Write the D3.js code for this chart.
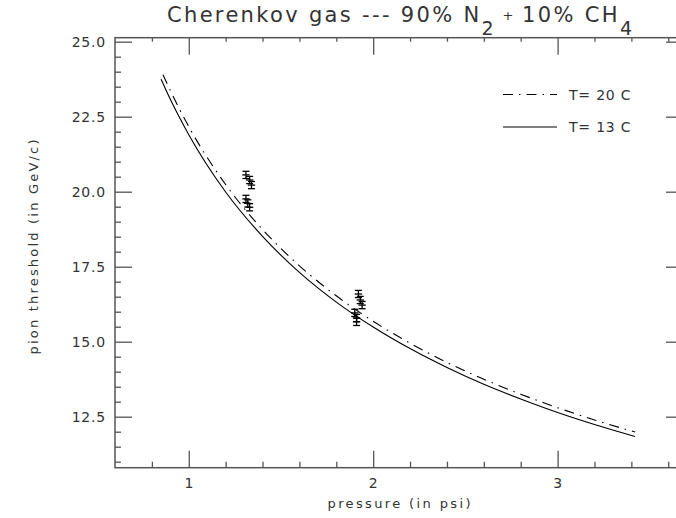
<!DOCTYPE html>
<html>
<head>
<meta charset="utf-8">
<script src="https://cdn.jsdelivr.net/npm/d3@7"></script>
<style>
  html, body { margin: 0; padding: 0; background: #fff; }
  svg { display: block; }
  text { font-family: "DejaVu Sans", "Liberation Sans", sans-serif; fill: #333; }
</style>
</head>
<body>
<svg id="chart" width="676" height="518"></svg>
<script>
// Threshold curves: pion Cherenkov threshold vs gas pressure
const pressure20C = [0.86, 0.9, 1.0, 1.2, 1.4, 1.6, 1.8, 2.0, 2.2, 2.4, 2.6, 2.8, 3.0, 3.2, 3.42];
const threshold20C = [23.90, 23.37, 22.17, 20.24, 18.74, 17.53, 16.53, 15.68, 14.95, 14.31, 13.75, 13.25, 12.80, 12.39, 11.99];

const pressure13C = [0.85, 0.9, 1.0, 1.2, 1.4, 1.6, 1.8, 2.0, 2.2, 2.4, 2.6, 2.8, 3.0, 3.2, 3.42];
const threshold13C = [23.75, 23.08, 21.90, 19.99, 18.51, 17.31, 16.32, 15.49, 14.77, 14.14, 13.58, 13.09, 12.64, 12.24, 11.84];

// Measured thresholds with errors
const measPressure = [1.31, 1.33, 1.34, 1.31, 1.32, 1.33, 1.92, 1.93, 1.94, 1.90, 1.91, 1.91];
const measThreshold = [20.56, 20.39, 20.22, 19.76, 19.61, 19.48, 16.59, 16.39, 16.22, 15.96, 15.79, 15.66];
const measPressureErr = 0.02;
const measThresholdErr = 0.12;

// Axis ticks
const xMajorTicks = [1, 2, 3];
const xMinorTicks = [0.8, 1.2, 1.4, 1.6, 1.8, 2.2, 2.4, 2.6, 2.8, 3.2, 3.4, 3.6];
const yMajorTicks = [12.5, 15.0, 17.5, 20.0, 22.5, 25.0];
const yMinorTicks = [11, 11.5, 12, 13, 13.5, 14, 14.5, 15.5, 16, 16.5, 17, 18, 18.5, 19, 19.5,
                     20.5, 21, 21.5, 22, 23, 23.5, 24, 24.5];

const legendLabels = ["T= 20 C", "T= 13 C"];

const svg = d3.select("#chart");
const plotLeft = 115, plotRight = 683, plotTop = 37.7, plotBottom = 467.7;

const x = d3.scaleLinear().domain([0.6, 3.68]).range([plotLeft, plotRight]);
const y = d3.scaleLinear().domain([10.8, 25.133]).range([plotBottom, plotTop]);

const axisColor = "#555";

// Frame
svg.append("rect")
  .attr("x", plotLeft).attr("y", plotTop)
  .attr("width", plotRight - plotLeft).attr("height", plotBottom - plotTop)
  .attr("fill", "none").attr("stroke", axisColor).attr("stroke-width", 1.5);

function styleAxis(g) {
  g.select(".domain").remove();
  g.selectAll(".tick line").attr("stroke", axisColor).attr("stroke-width", 1.3);
  g.selectAll(".tick text").attr("fill", "#333").attr("font-size", 14)
    .attr("font-family", "DejaVu Sans, sans-serif").attr("letter-spacing", "0.8px");
}

// Bottom axis (inward ticks)
svg.append("g").attr("transform", `translate(0,${plotBottom})`)
  .call(d3.axisBottom(x).tickValues(xMajorTicks).tickSizeInner(-17).tickSizeOuter(0)
        .tickPadding(10).tickFormat(d3.format("d")))
  .call(styleAxis);
svg.append("g").attr("transform", `translate(0,${plotBottom})`)
  .call(d3.axisBottom(x).tickValues(xMinorTicks).tickSizeInner(-6).tickSizeOuter(0).tickFormat(""))
  .call(styleAxis);

// Top axis
svg.append("g").attr("transform", `translate(0,${plotTop})`)
  .call(d3.axisTop(x).tickValues(xMajorTicks).tickSizeInner(-17).tickSizeOuter(0).tickFormat(""))
  .call(styleAxis);
svg.append("g").attr("transform", `translate(0,${plotTop})`)
  .call(d3.axisTop(x).tickValues(xMinorTicks).tickSizeInner(-4).tickSizeOuter(0).tickFormat(""))
  .call(styleAxis);

// Left axis
svg.append("g").attr("transform", `translate(${plotLeft},0)`)
  .call(d3.axisLeft(y).tickValues(yMajorTicks).tickSizeInner(-17).tickSizeOuter(0)
        .tickPadding(9).tickFormat(d3.format(".1f")))
  .call(styleAxis);
svg.append("g").attr("transform", `translate(${plotLeft},0)`)
  .call(d3.axisLeft(y).tickValues(yMinorTicks).tickSizeInner(-6).tickSizeOuter(0).tickFormat(""))
  .call(styleAxis);

// Right axis
svg.append("g").attr("transform", `translate(${plotRight},0)`)
  .call(d3.axisRight(y).tickValues(yMajorTicks).tickSizeInner(-17).tickSizeOuter(0).tickFormat(""))
  .call(styleAxis);
svg.append("g").attr("transform", `translate(${plotRight},0)`)
  .call(d3.axisRight(y).tickValues(yMinorTicks).tickSizeInner(-6).tickSizeOuter(0).tickFormat(""))
  .call(styleAxis);

// Curves
const line = d3.line().x(d => x(d[0])).y(d => y(d[1])).curve(d3.curveMonotoneX);
const dashPattern = "10,6,1.5,6";

svg.append("path")
  .datum(d3.zip(pressure20C, threshold20C))
  .attr("d", line).attr("fill", "none").attr("stroke", "#000")
  .attr("stroke-width", 1.1).attr("stroke-dasharray", dashPattern);

svg.append("path")
  .datum(d3.zip(pressure13C, threshold13C))
  .attr("d", line).attr("fill", "none").attr("stroke", "#000").attr("stroke-width", 1.1);

// Measured points with error bars
const pts = svg.append("g").attr("stroke", "#000").attr("stroke-width", 1.3);
const meas = d3.zip(measPressure, measThreshold);
const cap = 3.5;
meas.forEach(([p, t]) => {
  const g = pts.append("g");
  g.append("line").attr("x1", x(p - measPressureErr)).attr("x2", x(p + measPressureErr))
    .attr("y1", y(t)).attr("y2", y(t));
  g.append("line").attr("x1", x(p)).attr("x2", x(p))
    .attr("y1", y(t - measThresholdErr)).attr("y2", y(t + measThresholdErr));
  g.append("line").attr("x1", x(p) - cap).attr("x2", x(p) + cap)
    .attr("y1", y(t - measThresholdErr)).attr("y2", y(t - measThresholdErr));
  g.append("line").attr("x1", x(p) - cap).attr("x2", x(p) + cap)
    .attr("y1", y(t + measThresholdErr)).attr("y2", y(t + measThresholdErr));
});

// Legend
const legend = svg.append("g");
const legendRows = [
  { label: legendLabels[0], dash: dashPattern, y: 94.5 },
  { label: legendLabels[1], dash: null, y: 127 }
];
legendRows.forEach(r => {
  legend.append("line").attr("x1", 503).attr("x2", 557).attr("y1", r.y).attr("y2", r.y)
    .attr("stroke", "#000").attr("stroke-width", 1.1)
    .attr("stroke-dasharray", r.dash);
  legend.append("text").attr("x", 569).attr("y", r.y + 5)
    .attr("font-size", 14).attr("letter-spacing", "0.8px").text(r.label);
});

// Title
const title = svg.append("text")
  .attr("x", 167).attr("y", 22)
  .attr("font-size", 21)
  .attr("textLength", 465).attr("lengthAdjust", "spacing");
title.append("tspan").text("Cherenkov gas --- 90% N");
title.append("tspan").attr("dy", 13).attr("font-size", 19).text("2");
title.append("tspan").attr("dy", -15).attr("font-size", 13).text(" + ");
title.append("tspan").attr("dy", 2).text("10% CH");
title.append("tspan").attr("dy", 13).attr("font-size", 19).text("4");

// Axis titles
svg.append("text")
  .attr("x", 399).attr("y", 508)
  .attr("text-anchor", "middle").attr("font-size", 13)
  .attr("textLength", 143).attr("lengthAdjust", "spacing")
  .text("pressure (in psi)");

svg.append("text")
  .attr("transform", "translate(38,247) rotate(-90)")
  .attr("text-anchor", "middle").attr("font-size", 13)
  .attr("textLength", 215).attr("lengthAdjust", "spacing")
  .text("pion threshold (in GeV/c)");
</script>
</body>
</html>
